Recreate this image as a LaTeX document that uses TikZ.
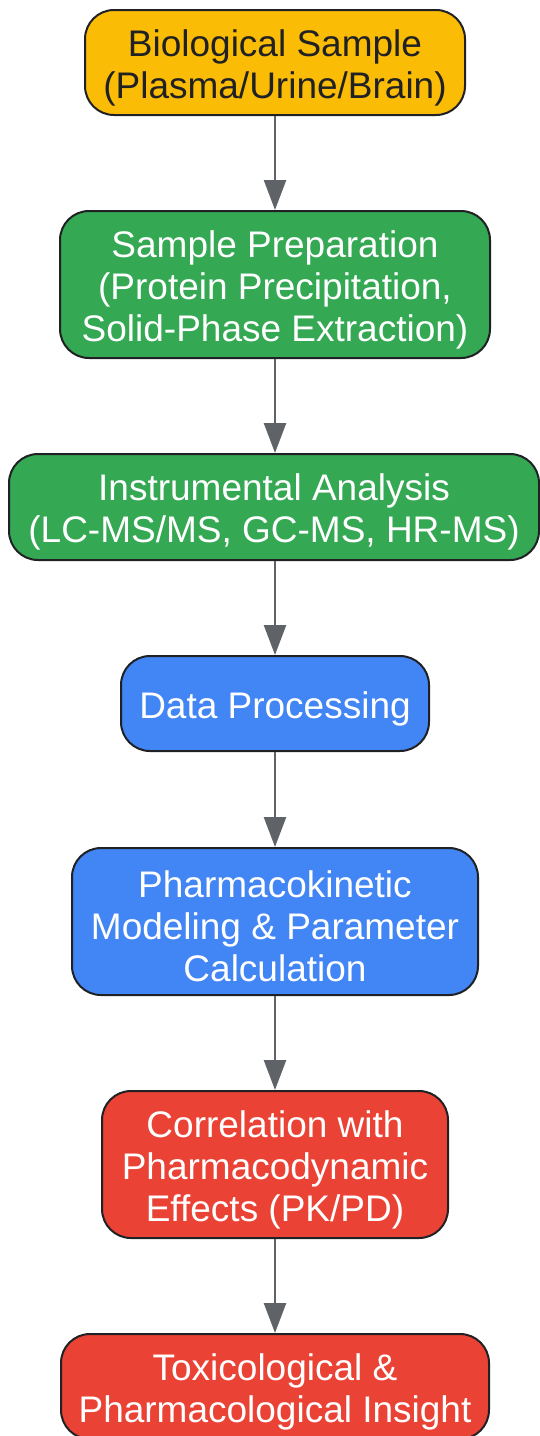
\documentclass[tikz,border=0pt]{standalone}
\usepackage{fontspec}
\setmainfont{Liberation Sans}
\usetikzlibrary{arrows.meta}
\definecolor{cyellow}{HTML}{FBBC05}
\definecolor{cgreen}{HTML}{34A853}
\definecolor{cblue}{HTML}{4285F4}
\definecolor{cred}{HTML}{EA4335}
\definecolor{cborder}{HTML}{202124}
\definecolor{carrow}{HTML}{5F6368}
\definecolor{cdark}{HTML}{202124}
\tikzset{
  stepbox/.style={draw=cborder, line width=2pt, rounded corners=29pt, inner sep=0pt},
  steptext/.style={align=center, inner sep=0pt, font=\fontsize{37}{42}\selectfont, yshift=-5pt},
  flow/.style={draw=carrow, line width=2.5pt, -{Triangle[length=30pt,width=22pt]}}
}
\begin{document}
\begin{tikzpicture}[x=1pt,y=-1pt]
\useasboundingbox (0,0) rectangle (539,1436);
\node[stepbox, fill=cyellow, minimum width=380pt, minimum height=105pt] (n1) at (275,62.5) {};
\node[steptext, text=cdark] (t1) at (n1.center) {Biological Sample\\(Plasma/Urine/Brain)};
\node[stepbox, fill=cgreen, minimum width=430pt, minimum height=147pt] (n2) at (275,284.5) {};
\node[steptext, text=white] (t2) at (n2.center) {Sample Preparation\\(Protein Precipitation,\\Solid-Phase Extraction)};
\node[stepbox, fill=cgreen, minimum width=530pt, minimum height=106pt] (n3) at (274,507) {};
\node[steptext, text=white] (t3) at (n3.center) {Instrumental Analysis\\(LC-MS/MS, GC-MS, HR-MS)};
\node[stepbox, fill=cblue, minimum width=308pt, minimum height=95pt] (n4) at (275,703.5) {};
\node[steptext, text=white] (t4) at (n4.center) {Data Processing};
\node[stepbox, fill=cblue, minimum width=406pt, minimum height=147pt] (n5) at (275,921.5) {};
\node[steptext, text=white] (t5) at (n5.center) {Pharmacokinetic\\Modeling \& Parameter\\Calculation};
\node[stepbox, fill=cred, minimum width=346pt, minimum height=147pt] (n6) at (275,1164.5) {};
\node[steptext, text=white] (t6) at (n6.center) {Correlation with\\Pharmacodynamic\\Effects (PK/PD)};
\node[stepbox, fill=cred, minimum width=428pt, minimum height=105pt] (n7) at (275,1386.5) {};
\node[steptext, text=white] (t7) at (n7.center) {Toxicological \&\\Pharmacological Insight};
\draw[flow] (n1.south) -- (n2.north);
\draw[flow] (n2.south) -- (n3.north -| n2.south);
\draw[flow] (n3.south -| n4.north) -- (n4.north);
\draw[flow] (n4.south) -- (n5.north);
\draw[flow] (n5.south) -- (n6.north);
\draw[flow] (n6.south) -- (n7.north);
\end{tikzpicture}
\end{document}
